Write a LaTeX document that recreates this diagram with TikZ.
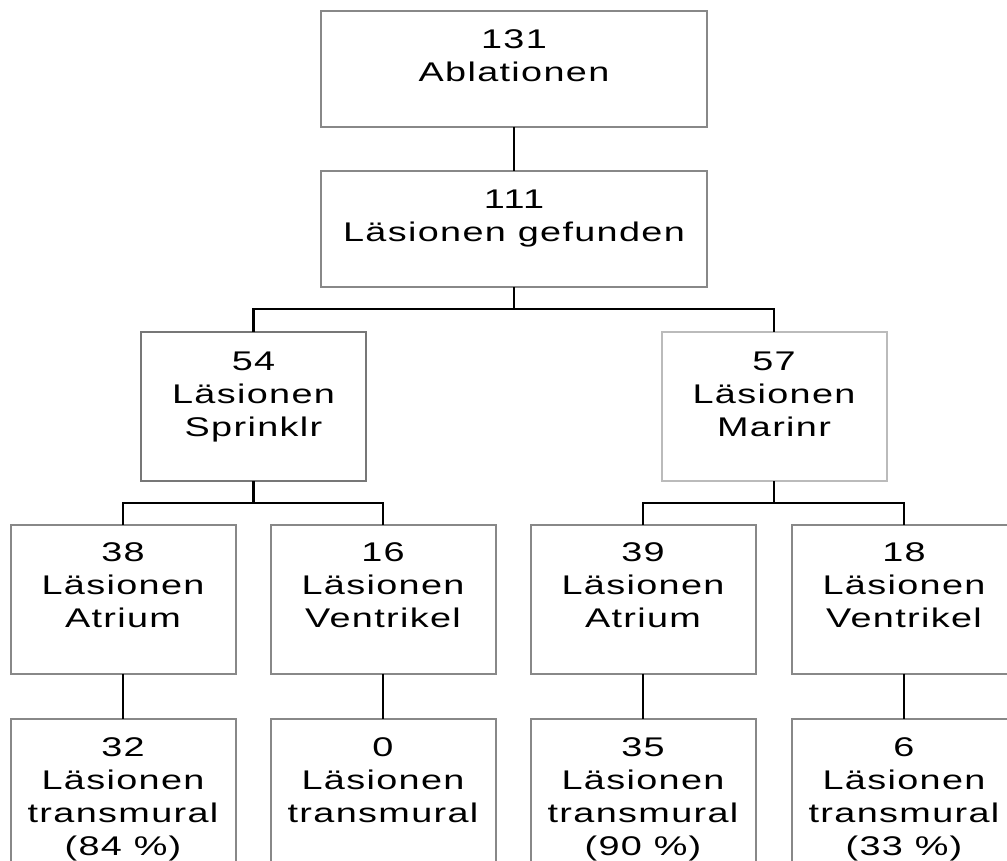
\documentclass[tikz,border=0pt]{standalone}
\usepackage{fontspec}
\setmainfont{Liberation Sans}[FakeStretch=1.4,LetterSpace=5]
\tikzset{
  box/.style={draw=boxgray, line width=2pt, rectangle, inner sep=0pt, outer sep=0pt, fill=white},
  lvlA/.style={box, minimum width=386pt, minimum height=116pt},
  lvlB/.style={box, minimum width=225pt, minimum height=149pt},
  txt/.style={align=center, inner sep=0pt, outer sep=0pt, anchor=north, font=\fontsize{27pt}{33pt}\selectfont, text=black},
  conn/.style={draw=black, line width=2.3pt},
}
\definecolor{boxgray}{HTML}{888888}
\definecolor{darkgray}{HTML}{777777}
\definecolor{lightgray}{HTML}{BBBBBB}
\begin{document}
\begin{tikzpicture}[x=1pt,y=-1pt]
\clip (0,0) rectangle (1007,861);
\fill[white] (0,0) rectangle (1007,861);
% level 1-2
\node[lvlA] (a) at (514,69) {};
\node[lvlA] (b) at (514,229) {};
% level 3
\node[lvlB, draw=darkgray] (c) at (253.5,406.5) {};
\node[lvlB, draw=lightgray] (d) at (774,406.5) {};
% level 4
\node[lvlB] (e1) at (123,599) {};
\node[lvlB] (e2) at (383,599) {};
\node[lvlB] (e3) at (643,599) {};
\node[lvlB] (e4) at (904,599) {};
% level 5
\node[lvlB] (f1) at (123,793.5) {};
\node[lvlB] (f2) at (383,793.5) {};
\node[lvlB] (f3) at (643,793.5) {};
\node[lvlB] (f4) at (904,793.5) {};
% texts
\node[txt] (ta) at ([yshift=-18.5pt]a.north) {131\\Ablationen};
\node[txt] (tb) at ([yshift=-18.5pt]b.north) {111\\Läsionen gefunden};
\node[txt] (tc) at ([yshift=-19.5pt]c.north) {54\\Läsionen\\Sprinklr};
\node[txt] (td) at ([yshift=-19.5pt]d.north) {57\\Läsionen\\Marinr};
\node[txt] (te1) at ([yshift=-18.5pt]e1.north) {38\\Läsionen\\Atrium};
\node[txt] (te2) at ([yshift=-18.5pt]e2.north) {16\\Läsionen\\Ventrikel};
\node[txt] (te3) at ([yshift=-18.5pt]e3.north) {39\\Läsionen\\Atrium};
\node[txt] (te4) at ([yshift=-18.5pt]e4.north) {18\\Läsionen\\Ventrikel};
\node[txt] (tf1) at ([yshift=-18.5pt]f1.north) {32\\Läsionen\\transmural\\(84 \%)};
\node[txt] (tf2) at ([yshift=-18.5pt]f2.north) {0\\Läsionen\\transmural};
\node[txt] (tf3) at ([yshift=-18.5pt]f3.north) {35\\Läsionen\\transmural\\(90 \%)};
\node[txt] (tf4) at ([yshift=-18.5pt]f4.north) {6\\Läsionen\\transmural\\(33 \%)};
% connectors
\draw[conn] (a.south) -- (b.north);
\draw[conn] (b.south) -- ++(0,22) -| (c.north);
\draw[conn] (b.south) ++(0,22) -| (d.north);
\draw[conn] (c.south) -- ++(0,22) -| (e1.north);
\draw[conn] (c.south) ++(0,22) -| (e2.north);
\draw[conn] (d.south) -- ++(0,22) -| (e3.north);
\draw[conn] (d.south) ++(0,22) -| (e4.north);
\draw[conn] (e1.south) -- (f1.north);
\draw[conn] (e2.south) -- (f2.north);
\draw[conn] (e3.south) -- (f3.north);
\draw[conn] (e4.south) -- (f4.north);
\end{tikzpicture}
\end{document}
